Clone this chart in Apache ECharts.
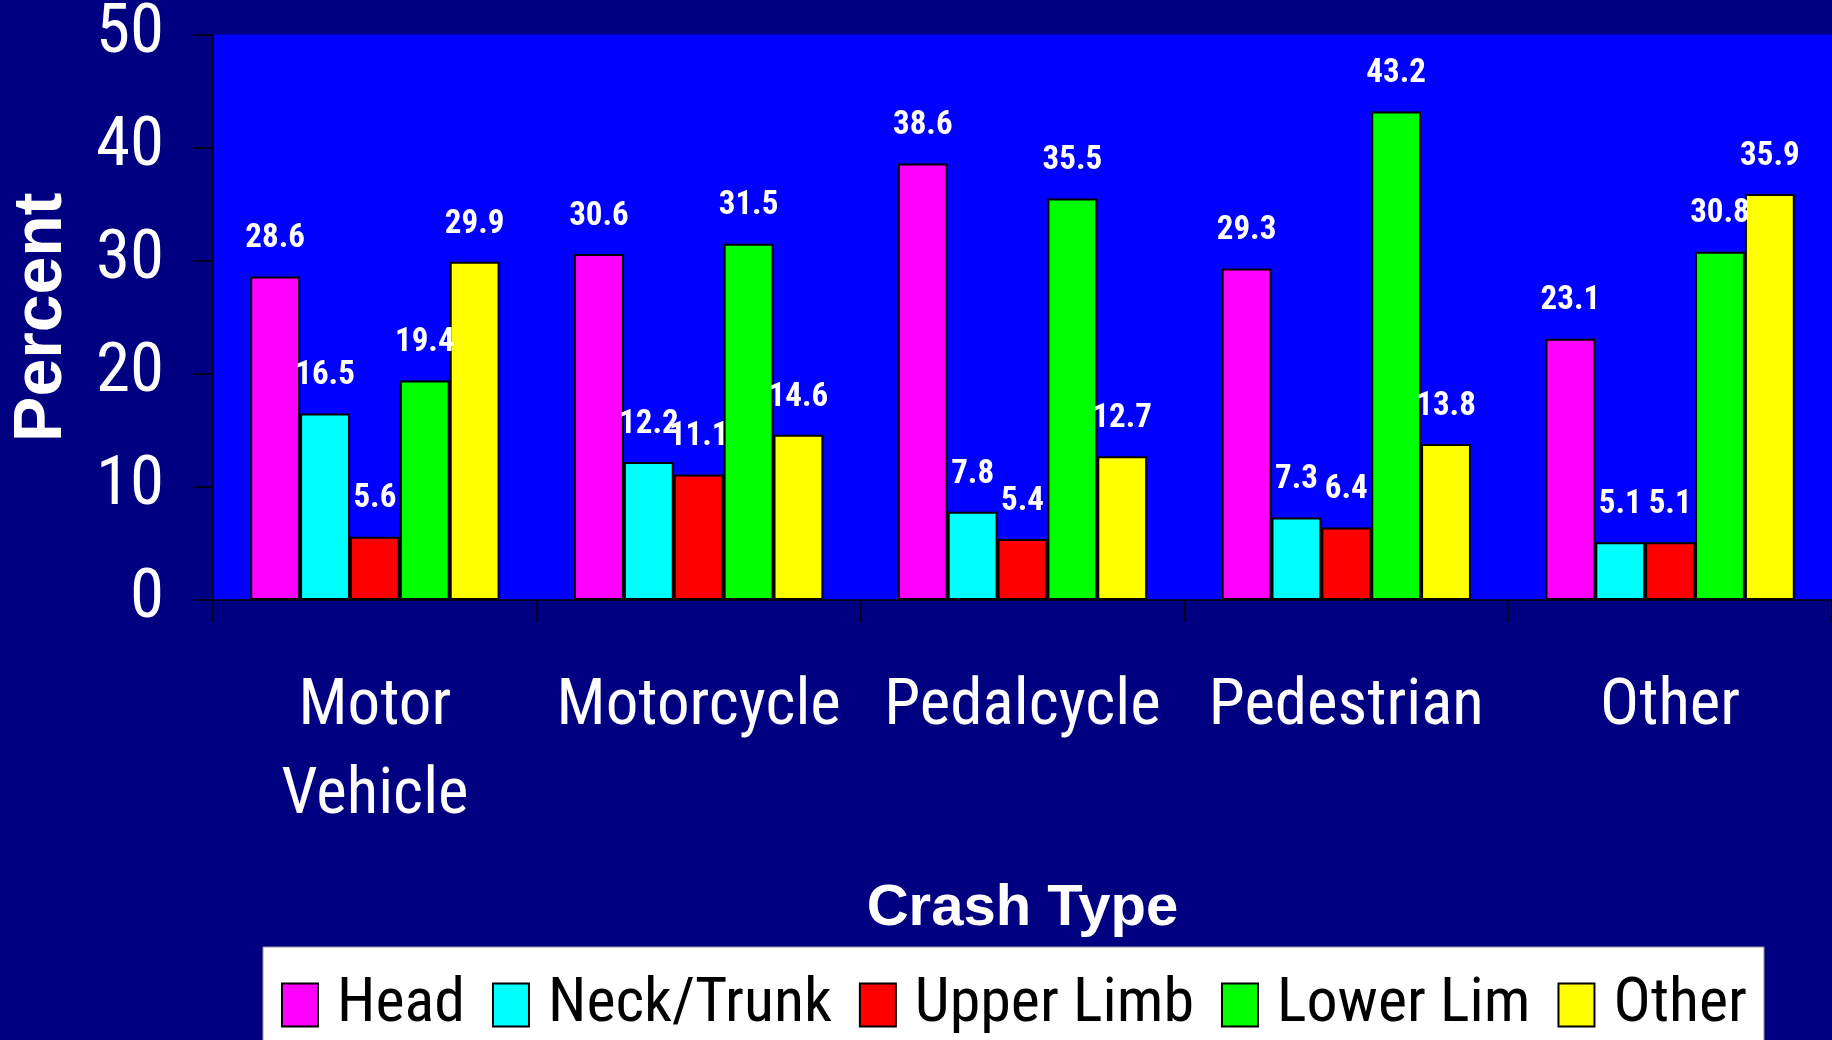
<!DOCTYPE html>
<html><head><meta charset="utf-8">
<script src="https://cdn.jsdelivr.net/npm/echarts@6/dist/echarts.min.js"></script>
<style>html,body{margin:0;padding:0;background:#000080;} #c{width:1832px;height:1040px;}</style>
</head><body><div id="c"></div>
<script>
const categories = ['Motor\nVehicle', 'Motorcycle', 'Pedalcycle', 'Pedestrian', 'Other'];
const seriesNames = ['Head', 'Neck/Trunk', 'Upper Limb', 'Lower Lim', 'Other'];
const head = [28.6, 30.6, 38.6, 29.3, 23.1];
const neckTrunk = [16.5, 12.2, 7.8, 7.3, 5.1];
const upperLimb = [5.6, 11.1, 5.4, 6.4, 5.1];
const lowerLim = [19.4, 31.5, 35.5, 43.2, 30.8];
const other = [29.9, 14.6, 12.7, 13.8, 35.9];
const yMin = 0, yMax = 50, yStep = 10;

const NARROW = 'Roboto, "Liberation Sans", Arial, sans-serif';
const WIDE = '"Liberation Sans", Arial, sans-serif';
const colors = ['#FF00FF', '#00FFFF', '#FF0000', '#00FF00', '#FFFF00'];
const values = [head, neckTrunk, upperLimb, lowerLim, other];

const chart = echarts.init(document.getElementById('c'), null, {renderer: 'canvas'});
chart.setOption({
  backgroundColor: '#000080',
  animation: false,
  grid: {left: 212, top: 31, right: 0, bottom: 440, show: true, backgroundColor: '#0000FF', borderWidth: 0},
  legend: {
    data: seriesNames,
    left: 263, top: 947,
    padding: [27, 17, 40, 18],
    backgroundColor: '#FFFFFF',
    borderColor: '#999999', borderWidth: 1,
    itemWidth: 36, itemHeight: 43, itemGap: 27,
    icon: 'rect',
    itemStyle: {borderColor: '#000', borderWidth: 2},
    textStyle: {color: '#000', fontSize: 62, fontStyle: 'condensed', fontFamily: NARROW, padding: [0, 0, 0, 14]}
  },
  xAxis: {
    type: 'category', data: categories,
    name: 'Crash Type', nameLocation: 'middle', nameGap: 280,
    nameTextStyle: {color: '#fff', fontSize: 58, fontWeight: 'bold', fontFamily: WIDE},
    axisLine: {show: true, lineStyle: {color: '#000', width: 1.5}},
    axisTick: {show: true, length: 22, interval: 0, lineStyle: {color: '#000', width: 1.5}},
    axisLabel: {color: '#fff', fontSize: 65, fontStyle: 'condensed', fontFamily: NARROW, lineHeight: 89, margin: 63, interval: 0}
  },
  yAxis: {
    type: 'value', min: yMin, max: yMax, interval: yStep,
    name: 'Percent', nameLocation: 'middle', nameGap: 137,
    nameTextStyle: {color: '#fff', fontSize: 68, fontWeight: 'bold', fontFamily: WIDE},
    axisLine: {show: true, lineStyle: {color: '#000', width: 1.5}},
    axisTick: {show: true, length: 20, lineStyle: {color: '#000', width: 1.5}},
    splitLine: {show: false},
    axisLabel: {color: '#fff', fontSize: 69, fontStyle: 'condensed', fontFamily: NARROW, margin: 49}
  },
  series: seriesNames.map((n, i) => ({
    name: n, type: 'bar', data: values[i],
    barGap: '0%', barCategoryGap: '23%',
    itemStyle: {color: colors[i], borderColor: '#000', borderWidth: 2},
    label: {show: true, position: 'top', distance: 21, color: '#fff', fontSize: 33, fontStyle: 'condensed', fontWeight: 'bold', fontFamily: NARROW},
    emphasis: {disabled: true}
  }))
});
</script></body></html>
